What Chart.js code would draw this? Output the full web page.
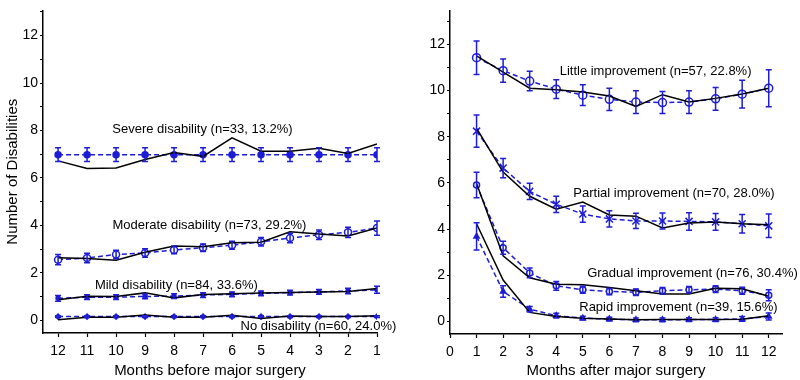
<!DOCTYPE html>
<html>
<head>
<meta charset="utf-8">
<script src="https://cdn.jsdelivr.net/npm/chart.js@4/dist/chart.umd.min.js"></script>
<style>
  body { margin: 0; background: #fff; }
  .wrap { position: relative; width: 800px; height: 380px; }
  canvas { position: absolute; top: 0; }
</style>
</head>
<body>
<div class="wrap">
  <canvas id="before" width="400" height="380" style="left:0"></canvas>
  <canvas id="after" width="400" height="380" style="left:400px"></canvas>
</div>
<script>
// months
const monthsBefore = [12, 11, 10, 9, 8, 7, 6, 5, 4, 3, 2, 1];
const monthsAfter = [1, 2, 3, 4, 5, 6, 7, 8, 9, 10, 11, 12];
const yTicks = [0, 1, 2, 3, 4, 5, 6, 7, 8, 9, 10, 11, 12, 13];

// before surgery: observed (black) and estimated (blue, with error)
const severeObs = [6.72, 6.40, 6.42, 6.78, 7.07, 6.91, 7.69, 7.13, 7.13, 7.25, 7.03, 7.43];
const severeEst = [6.98, 6.98, 6.98, 6.98, 6.98, 6.98, 6.98, 6.98, 6.98, 6.98, 6.98, 6.98];
const severeErr = [0.29, 0.29, 0.29, 0.29, 0.29, 0.29, 0.29, 0.29, 0.29, 0.29, 0.29, 0.29];
const moderateObs = [2.64, 2.61, 2.54, 2.87, 3.13, 3.10, 3.27, 3.29, 3.73, 3.64, 3.56, 3.89];
const moderateEst = [2.56, 2.63, 2.78, 2.84, 2.97, 3.06, 3.17, 3.31, 3.47, 3.61, 3.71, 3.89];
const moderateErr = [0.22, 0.20, 0.18, 0.18, 0.16, 0.16, 0.17, 0.18, 0.20, 0.20, 0.22, 0.30];
const mildObs = [0.87, 1.02, 1.01, 1.16, 0.95, 1.09, 1.12, 1.16, 1.18, 1.20, 1.22, 1.35];
const mildEst = [0.93, 0.98, 0.98, 1.01, 1.02, 1.07, 1.10, 1.14, 1.17, 1.20, 1.24, 1.29];
const mildErr = [0.12, 0.10, 0.10, 0.10, 0.10, 0.10, 0.10, 0.10, 0.10, 0.10, 0.12, 0.15];
const noneObs = [0.03, 0.13, 0.13, 0.23, 0.13, 0.13, 0.22, 0.08, 0.19, 0.16, 0.16, 0.20];
const noneEst = [0.16, 0.16, 0.16, 0.16, 0.16, 0.16, 0.16, 0.16, 0.16, 0.16, 0.16, 0.16];
const noneErr = [0.04, 0.04, 0.04, 0.04, 0.04, 0.04, 0.04, 0.04, 0.04, 0.04, 0.04, 0.04];

// after surgery
const littleObs = [11.50, 10.80, 10.10, 10.03, 9.94, 9.76, 9.31, 9.82, 9.50, 9.66, 9.85, 10.10];
const littleEst = [11.42, 10.86, 10.41, 10.06, 9.80, 9.62, 9.50, 9.48, 9.50, 9.64, 9.84, 10.10];
const littleErr = [0.73, 0.50, 0.42, 0.41, 0.45, 0.48, 0.49, 0.48, 0.49, 0.49, 0.60, 0.80];
const partialObs = [8.36, 6.47, 5.42, 4.86, 5.17, 4.61, 4.56, 4.05, 4.26, 4.31, 4.23, 4.19];
const partialEst = [8.24, 6.64, 5.63, 5.07, 4.65, 4.44, 4.35, 4.35, 4.33, 4.31, 4.23, 4.14];
const partialErr = [0.70, 0.42, 0.35, 0.35, 0.35, 0.35, 0.33, 0.35, 0.38, 0.36, 0.40, 0.51];
const gradualObs = [5.97, 2.84, 1.89, 1.61, 1.59, 1.47, 1.33, 1.19, 1.19, 1.44, 1.41, 1.09];
const gradualEst = [5.91, 3.19, 2.10, 1.54, 1.37, 1.30, 1.26, 1.33, 1.37, 1.40, 1.33, 1.13];
const gradualErr = [0.55, 0.28, 0.21, 0.19, 0.15, 0.14, 0.14, 0.14, 0.14, 0.15, 0.15, 0.24];
const rapidObs = [4.23, 1.79, 0.39, 0.21, 0.14, 0.10, 0.07, 0.08, 0.08, 0.08, 0.09, 0.25];
const rapidEst = [3.68, 1.30, 0.53, 0.25, 0.14, 0.10, 0.07, 0.07, 0.08, 0.08, 0.11, 0.21];
const rapidErr = [0.59, 0.25, 0.12, 0.10, 0.08, 0.08, 0.08, 0.08, 0.08, 0.08, 0.10, 0.15];

// group labels: [text, x value, y value]
const notesBefore = [
    ['Severe disability (n=33, 13.2%)', 7.02, 8.04],
    ['Moderate disability (n=73, 29.2%)', 6.78, 4.0],
    ['Mild disability (n=84, 33.6%)', 7.92, 1.47],
    ['No disability (n=60, 24.0%)', 3.02, -0.24]
];
const notesAfter = [
    ['Little improvement (n=57, 22.8%)', 7.74, 10.83],
    ['Partial improvement (n=70, 28.0%)', 8.43, 5.54],
    ['Gradual improvement (n=76, 30.4%)', 9.13, 2.06],
    ['Rapid improvement (n=39, 15.6%)', 8.6, 0.59]
];

const BLUE = '#1d1dd6';
const FONT = "Arial, 'Liberation Sans', sans-serif";

function pts(xs, ys) {
    return xs.map((x, i) => ({ x, y: ys[i] }));
}

function observed(xs, ys) {
    return {
        data: pts(xs, ys),
        borderColor: '#000',
        borderWidth: 1.5,
        pointRadius: 0,
        tension: 0
    };
}

function estimated(xs, ys, err, style, radius, filled) {
    return {
        data: pts(xs, ys),
        errors: err,
        borderColor: BLUE,
        borderWidth: 1.5,
        borderDash: [5, 3],
        pointStyle: style,
        pointRadius: radius,
        pointBorderWidth: 1.5,
        pointBorderColor: BLUE,
        pointBackgroundColor: filled ? BLUE : '#fff',
        tension: 0
    };
}

const errorBars = {
    id: 'errorBars',
    afterDatasetsDraw(chart) {
        const { ctx } = chart;
        const xs = chart.scales.x, ys = chart.scales.y;
        ctx.save();
        ctx.strokeStyle = BLUE;
        ctx.lineWidth = 1.5;
        chart.data.datasets.forEach(ds => {
            if (!ds.errors) return;
            ds.data.forEach((p, i) => {
                const px = xs.getPixelForValue(p.x);
                const top = ys.getPixelForValue(p.y + ds.errors[i]);
                const bot = ys.getPixelForValue(p.y - ds.errors[i]);
                ctx.beginPath();
                ctx.moveTo(px, top); ctx.lineTo(px, bot);
                ctx.moveTo(px - 3, top); ctx.lineTo(px + 3, top);
                ctx.moveTo(px - 3, bot); ctx.lineTo(px + 3, bot);
                ctx.stroke();
            });
        });
        ctx.restore();
    }
};

const notes = {
    id: 'notes',
    afterDraw(chart, args, opts) {
        const { ctx } = chart;
        ctx.save();
        ctx.font = '13px ' + FONT;
        ctx.fillStyle = '#000';
        ctx.textAlign = 'center';
        ctx.textBaseline = 'middle';
        opts.items.forEach(([t, x, y]) => {
            ctx.fillText(t, chart.scales.x.getPixelForValue(x), chart.scales.y.getPixelForValue(y));
        });
        ctx.restore();
    }
};

function makeChart(id, datasets, cfg) {
    return new Chart(document.getElementById(id), {
        type: 'line',
        data: { datasets },
        plugins: [errorBars, notes],
        options: {
            responsive: false,
            animation: false,
            layout: { padding: { left: 0, top: 0, right: cfg.padRight, bottom: 0 } },
            plugins: {
                legend: { display: false },
                tooltip: { enabled: false },
                notes: { items: cfg.notes }
            },
            scales: {
                x: {
                    type: 'linear',
                    min: cfg.xMin,
                    max: cfg.xMax,
                    reverse: cfg.reverse,
                    afterFit: s => { s.height = cfg.xHeight; },
                    afterBuildTicks: s => { s.ticks = cfg.xTicks.map(v => ({ value: v })); },
                    ticks: {
                        color: '#000',
                        font: { family: FONT, size: 14 },
                        padding: 6,
                        maxRotation: 0,
                        autoSkip: false,
                        callback: v => String(v)
                    },
                    grid: { drawOnChartArea: false, tickLength: 4, color: '#000', tickWidth: 1.2 },
                    border: { color: '#000', width: 1.5 },
                    title: {
                        display: true,
                        text: cfg.xTitle,
                        color: '#000',
                        font: { family: FONT, size: 15 },
                        padding: { top: 0, bottom: 0 }
                    }
                },
                y: {
                    type: 'linear',
                    min: cfg.yMin,
                    max: cfg.yMax,
                    afterFit: s => { s.width = cfg.yWidth; },
                    afterBuildTicks: s => { s.ticks = yTicks.map(v => ({ value: v })); },
                    ticks: {
                        color: '#000',
                        font: { family: FONT, size: 14 },
                        padding: 2,
                        autoSkip: false,
                        callback: v => (v % 2 === 0 ? String(v) : '')
                    },
                    grid: { drawOnChartArea: false, tickLength: 3, color: '#000', tickWidth: 1.2 },
                    border: { color: '#000', width: 1.5 },
                    title: {
                        display: cfg.yTitle !== '',
                        text: cfg.yTitle,
                        color: '#000',
                        font: { family: FONT, size: 15 },
                        padding: { top: 4, bottom: 0 }
                    }
                }
            }
        }
    });
}

makeChart('before', [
    observed(monthsBefore, severeObs),
    estimated(monthsBefore, severeEst, severeErr, 'circle', 3, true),
    observed(monthsBefore, moderateObs),
    estimated(monthsBefore, moderateEst, moderateErr, 'circle', 3.5, false),
    observed(monthsBefore, mildObs),
    estimated(monthsBefore, mildEst, mildErr, 'circle', 2, true),
    observed(monthsBefore, noneObs),
    estimated(monthsBefore, noneEst, noneErr, 'rectRot', 2.5, false)
], {
    xMin: 1, xMax: 12.52, reverse: true, xTicks: monthsBefore,
    yMin: -0.53, yMax: 13.06, yWidth: 43, xHeight: 47, padRight: 23,
    xTitle: 'Months before major surgery', yTitle: 'Number of Disabilities',
    notes: notesBefore
});

makeChart('after', [
    observed(monthsAfter, littleObs),
    estimated(monthsAfter, littleEst, littleErr, 'circle', 4, false),
    observed(monthsAfter, partialObs),
    estimated(monthsAfter, partialEst, partialErr, 'crossRot', 5, false),
    observed(monthsAfter, gradualObs),
    estimated(monthsAfter, gradualEst, gradualErr, 'circle', 3, false),
    observed(monthsAfter, rapidObs),
    estimated(monthsAfter, rapidEst, rapidErr, 'triangle', 3, true)
], {
    xMin: 0, xMax: 12.5, reverse: false, xTicks: [0].concat(monthsAfter),
    yMin: -0.545, yMax: 13.47, yWidth: 50, xHeight: 46, padRight: 18,
    xTitle: 'Months after major surgery', yTitle: '',
    notes: notesAfter
});
</script>
</body>
</html>
